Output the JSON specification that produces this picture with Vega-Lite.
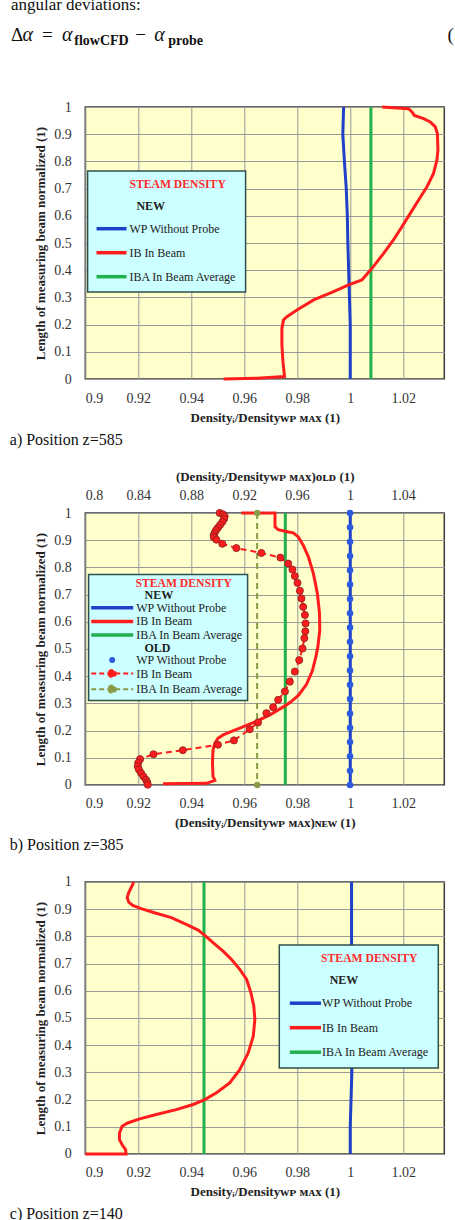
{
  "$schema": "https://vega.github.io/schema/vega-lite/v6.json",
  "background": "white",
  "padding": {"left": 8.3, "top": -5, "right": 0, "bottom": 0},
  "spacing": 20,
  "config": {
    "font": "Liberation Serif",
    "view": {"stroke": null},
    "axis": {"labelFont": "Liberation Serif", "labelFontSize": 14, "labelColor": "#333333", "titleFont": "Liberation Serif", "titleFontSize": 13, "titleFontWeight": "bold", "titleColor": "#222222", "domain": false, "ticks": false, "tickSize": 0, "gridColor": "#999999", "gridWidth": 1, "gridOpacity": 1},
    "axisY": {"labelPadding": 14, "titlePadding": 6},
    "axisBottom": {"labelPadding": 12, "titlePadding": 6},
    "axisTop": {"labelPadding": 10.5, "titlePadding": 5}
  },
  "resolve": {"scale": {"x": "independent", "y": "independent", "color": "independent"}, "legend": {"color": "independent"}},
  "vconcat": [
    {
      "width": 359, "height": 83,
      "data": {"values": [
        {"t": "angular deviations:", "k": "body", "x": -0.2072, "y": 0.836},
        {"t": "Δ", "k": "op", "x": -0.2072, "y": 0.454},
        {"t": "α", "k": "main", "x": -0.1747, "y": 0.454},
        {"t": "=", "k": "op", "x": -0.1209, "y": 0.454},
        {"t": "α", "k": "main", "x": -0.0652, "y": 0.454},
        {"t": "flowCFD", "k": "sub", "x": -0.0306, "y": 0.406},
        {"t": "−", "k": "op", "x": 0.1393, "y": 0.454},
        {"t": "α", "k": "main", "x": 0.1922, "y": 0.454},
        {"t": "probe", "k": "sub", "x": 0.2312, "y": 0.406},
        {"t": "(3)", "k": "op", "x": 1.0092, "y": 0.454}
      ]},
      "encoding": {
        "x": {"field": "x", "type": "quantitative", "scale": {"domain": [0, 1], "nice": false, "zero": false}, "axis": null},
        "y": {"field": "y", "type": "quantitative", "scale": {"domain": [0, 1], "nice": false, "zero": false}, "axis": null},
        "text": {"field": "t", "type": "nominal"}
      },
      "layer": [
        {"transform": [{"filter": "datum.k === 'body'"}], "mark": {"type": "text", "align": "left", "baseline": "alphabetic", "font": "Liberation Serif", "fontSize": 17, "color": "#111111"}},
        {"transform": [{"filter": "datum.k === 'main'"}], "mark": {"type": "text", "align": "left", "baseline": "alphabetic", "font": "Liberation Serif", "fontSize": 20, "fontStyle": "italic", "color": "#111111"}},
        {"transform": [{"filter": "datum.k === 'op'"}], "mark": {"type": "text", "align": "left", "baseline": "alphabetic", "font": "Liberation Serif", "fontSize": 19, "color": "#111111"}},
        {"transform": [{"filter": "datum.k === 'sub'"}], "mark": {"type": "text", "align": "left", "baseline": "alphabetic", "font": "Liberation Serif", "fontSize": 14, "fontWeight": "bold", "color": "#111111"}}
      ]
    },
    {
      "width": 359, "height": 272,
      "view": {"fill": "#ffffcc", "stroke": "#3a3a3a", "strokeWidth": 1.5},
      "title": {"text": "a) Position z=585", "orient": "bottom", "anchor": "start", "frame": "bounds", "offset": 8, "dx": -25, "font": "Liberation Serif", "fontSize": 16, "fontWeight": "normal", "color": "#111111"},
      "data": {"values": [
        {"s": "nWP", "x": 0.9975, "y": 1}, {"s": "nWP", "x": 0.9972, "y": 0.9}, {"s": "nWP", "x": 0.9978, "y": 0.8}, {"s": "nWP", "x": 0.9985, "y": 0.7}, {"s": "nWP", "x": 0.9989, "y": 0.6}, {"s": "nWP", "x": 0.9991, "y": 0.5}, {"s": "nWP", "x": 0.9994, "y": 0.4}, {"s": "nWP", "x": 0.9997, "y": 0.3}, {"s": "nWP", "x": 1.0, "y": 0.2}, {"s": "nWP", "x": 1.0, "y": 0.1}, {"s": "nWP", "x": 1.0, "y": 0},
        {"s": "nIBA", "x": 1.0078, "y": 1}, {"s": "nIBA", "x": 1.0078, "y": 0},
        {"s": "nIB", "x": 1.012, "y": 1.0}, {"s": "nIB", "x": 1.022, "y": 0.994}, {"s": "nIB", "x": 1.0233, "y": 0.982}, {"s": "nIB", "x": 1.0242, "y": 0.969}, {"s": "nIB", "x": 1.0277, "y": 0.957}, {"s": "nIB", "x": 1.0302, "y": 0.945}, {"s": "nIB", "x": 1.0321, "y": 0.927}, {"s": "nIB", "x": 1.0329, "y": 0.902}, {"s": "nIB", "x": 1.0331, "y": 0.841}, {"s": "nIB", "x": 1.0327, "y": 0.804}, {"s": "nIB", "x": 1.0314, "y": 0.755}, {"s": "nIB", "x": 1.0289, "y": 0.706}, {"s": "nIB", "x": 1.0258, "y": 0.658}, {"s": "nIB", "x": 1.0226, "y": 0.608}, {"s": "nIB", "x": 1.0195, "y": 0.56}, {"s": "nIB", "x": 1.0163, "y": 0.511}, {"s": "nIB", "x": 1.0126, "y": 0.462}, {"s": "nIB", "x": 1.0082, "y": 0.407}, {"s": "nIB", "x": 1.0044, "y": 0.364}, {"s": "nIB", "x": 0.9994, "y": 0.346}, {"s": "nIB", "x": 0.9937, "y": 0.321}, {"s": "nIB", "x": 0.9862, "y": 0.291}, {"s": "nIB", "x": 0.9799, "y": 0.254}, {"s": "nIB", "x": 0.9761, "y": 0.229}, {"s": "nIB", "x": 0.9748, "y": 0.217}, {"s": "nIB", "x": 0.9742, "y": 0.186}, {"s": "nIB", "x": 0.9742, "y": 0.126}, {"s": "nIB", "x": 0.9746, "y": 0.064}, {"s": "nIB", "x": 0.9752, "y": 0.009}, {"s": "nIB", "x": 0.9648, "y": 0.003}, {"s": "nIB", "x": 0.9522, "y": 0.0}
      ]},
      "transform": [{"window": [{"op": "row_number", "as": "rn"}]}],
      "encoding": {
        "x": {"field": "x", "type": "quantitative", "scale": {"domain": [0.9, 1.0355], "nice": false, "zero": false}, "axis": {"values": [0.9, 0.92, 0.94, 0.96, 0.98, 1, 1.02], "format": "~g", "title": "Densityᵢ/Densityᴡᴘ ᴍᴀx (1)", "grid": true}},
        "y": {"field": "y", "type": "quantitative", "scale": {"domain": [0, 1], "nice": false, "zero": false}, "axis": {"values": [0, 0.1, 0.2, 0.3, 0.4, 0.5, 0.6, 0.7, 0.8, 0.9, 1], "format": "~g", "title": "Length of measuring beam normalized (1)", "grid": true}},
        "color": {"field": "s", "type": "nominal", "scale": {"domain": ["NEW", "nWP", "nIB", "nIBA"], "range": ["#000000", "#1f40c8", "#ff1c1c", "#20b14c"]},
          "legend": {"orient": "none", "legendX": 2.3, "legendY": 64, "title": "STEAM DENSITY", "titleColor": "#ff2a2a", "titleFont": "Liberation Serif", "titleFontSize": 11.7, "titleFontWeight": "bold", "titleAnchor": "middle", "titlePadding": 9,
            "fillColor": "#ccffff", "strokeColor": "#2f4f4f", "padding": 8,
            "labelFont": "Liberation Serif", "labelFontSize": 12, "labelColor": "#222222", "labelLimit": 300,
            "labelExpr": "datum.value === 'NEW' ? 'NEW' : datum.value === 'nWP' ? 'WP Without Probe' : datum.value === 'nIB' ? 'IB In Beam' : 'IBA In Beam Average'",
            "symbolType": "M-5,0H5", "symbolSize": 36, "symbolStrokeWidth": 3.5, "symbolOffset": 9.9, "labelOffset": 11.9, "rowPadding": 10,
            "encode": {
              "legend": {"update": {"strokeWidth": {"value": 1.5}}},
              "title": {"update": {"dx": {"value": 11}}},
              "symbols": {"update": {"opacity": {"signal": "datum.value === 'NEW' ? 0 : 1"}}},
              "labels": {"update": {"fontWeight": {"signal": "datum.value === 'NEW' ? 'bold' : 'normal'"}, "dx": {"signal": "datum.value === 'NEW' ? 7 : 0"}}}
            }}},
        "order": {"field": "rn", "type": "quantitative"}
      },
      "layer": [
        {"mark": {"type": "line", "strokeWidth": 3}}
      ]
    },
    {
      "width": 359, "height": 272,
      "view": {"fill": "#ffffcc", "stroke": "#3a3a3a", "strokeWidth": 1.5},
      "title": {"text": "b) Position z=385", "orient": "bottom", "anchor": "start", "frame": "bounds", "offset": 7, "dx": -25, "font": "Liberation Serif", "fontSize": 16, "fontWeight": "normal", "color": "#111111"},
      "data": {"values": [
        {"s": "nWP", "x": 1.0, "y": 1}, {"s": "nWP", "x": 1.0, "y": 0},
        {"s": "nIBA", "x": 0.9755, "y": 1}, {"s": "nIBA", "x": 0.9755, "y": 0},
        {"s": "nIB", "x": 0.9589, "y": 1.0}, {"s": "nIB", "x": 0.9716, "y": 1.0}, {"s": "nIB", "x": 0.9716, "y": 0.949}, {"s": "nIB", "x": 0.9728, "y": 0.939}, {"s": "nIB", "x": 0.9767, "y": 0.93}, {"s": "nIB", "x": 0.9785, "y": 0.927}, {"s": "nIB", "x": 0.9804, "y": 0.912}, {"s": "nIB", "x": 0.9823, "y": 0.881}, {"s": "nIB", "x": 0.9842, "y": 0.839}, {"s": "nIB", "x": 0.9861, "y": 0.777}, {"s": "nIB", "x": 0.9876, "y": 0.704}, {"s": "nIB", "x": 0.9884, "y": 0.631}, {"s": "nIB", "x": 0.9885, "y": 0.57}, {"s": "nIB", "x": 0.9878, "y": 0.509}, {"s": "nIB", "x": 0.987, "y": 0.47}, {"s": "nIB", "x": 0.9857, "y": 0.42}, {"s": "nIB", "x": 0.9835, "y": 0.37}, {"s": "nIB", "x": 0.9805, "y": 0.33}, {"s": "nIB", "x": 0.9775, "y": 0.305}, {"s": "nIB", "x": 0.9752, "y": 0.29}, {"s": "nIB", "x": 0.9697, "y": 0.258}, {"s": "nIB", "x": 0.9646, "y": 0.234}, {"s": "nIB", "x": 0.9583, "y": 0.209}, {"s": "nIB", "x": 0.952, "y": 0.184}, {"s": "nIB", "x": 0.9501, "y": 0.172}, {"s": "nIB", "x": 0.9489, "y": 0.154}, {"s": "nIB", "x": 0.9482, "y": 0.129}, {"s": "nIB", "x": 0.948, "y": 0.081}, {"s": "nIB", "x": 0.9482, "y": 0.032}, {"s": "nIB", "x": 0.9489, "y": 0.017}, {"s": "nIB", "x": 0.9457, "y": 0.006}, {"s": "nIB", "x": 0.9293, "y": 0.005},
        {"s": "oIBA", "x": 0.9298, "y": 1}, {"s": "oIBA", "x": 0.9298, "y": 0},
        {"s": "oWP", "x": 1.0, "y": 0}, {"s": "oWP", "x": 1.0, "y": 0.0526}, {"s": "oWP", "x": 1.0, "y": 0.1053}, {"s": "oWP", "x": 1.0, "y": 0.1579}, {"s": "oWP", "x": 1.0, "y": 0.2105}, {"s": "oWP", "x": 1.0, "y": 0.2632}, {"s": "oWP", "x": 1.0, "y": 0.3158}, {"s": "oWP", "x": 1.0, "y": 0.3684}, {"s": "oWP", "x": 1.0, "y": 0.4211}, {"s": "oWP", "x": 1.0, "y": 0.4737}, {"s": "oWP", "x": 1.0, "y": 0.5263}, {"s": "oWP", "x": 1.0, "y": 0.5789}, {"s": "oWP", "x": 1.0, "y": 0.6316}, {"s": "oWP", "x": 1.0, "y": 0.6842}, {"s": "oWP", "x": 1.0, "y": 0.7368}, {"s": "oWP", "x": 1.0, "y": 0.7895}, {"s": "oWP", "x": 1.0, "y": 0.8421}, {"s": "oWP", "x": 1.0, "y": 0.8947}, {"s": "oWP", "x": 1.0, "y": 0.9474}, {"s": "oWP", "x": 1.0, "y": 1},
        {"s": "oIB", "x": 0.9015, "y": 1.0}, {"s": "oIB", "x": 0.904, "y": 0.995}, {"s": "oIB", "x": 0.9053, "y": 0.988}, {"s": "oIB", "x": 0.9048, "y": 0.978}, {"s": "oIB", "x": 0.9035, "y": 0.967}, {"s": "oIB", "x": 0.9018, "y": 0.956}, {"s": "oIB", "x": 0.9002, "y": 0.946}, {"s": "oIB", "x": 0.8988, "y": 0.937}, {"s": "oIB", "x": 0.8977, "y": 0.927}, {"s": "oIB", "x": 0.897, "y": 0.918}, {"s": "oIB", "x": 0.8972, "y": 0.91}, {"s": "oIB", "x": 0.899, "y": 0.902}, {"s": "oIB", "x": 0.9035, "y": 0.887}, {"s": "oIB", "x": 0.9141, "y": 0.871}, {"s": "oIB", "x": 0.933, "y": 0.853}, {"s": "oIB", "x": 0.9474, "y": 0.836}, {"s": "oIB", "x": 0.9533, "y": 0.814}, {"s": "oIB", "x": 0.9565, "y": 0.792}, {"s": "oIB", "x": 0.9583, "y": 0.768}, {"s": "oIB", "x": 0.9603, "y": 0.743}, {"s": "oIB", "x": 0.9621, "y": 0.714}, {"s": "oIB", "x": 0.9633, "y": 0.686}, {"s": "oIB", "x": 0.9646, "y": 0.655}, {"s": "oIB", "x": 0.9659, "y": 0.625}, {"s": "oIB", "x": 0.9664, "y": 0.594}, {"s": "oIB", "x": 0.9662, "y": 0.565}, {"s": "oIB", "x": 0.9655, "y": 0.54}, {"s": "oIB", "x": 0.9641, "y": 0.502}, {"s": "oIB", "x": 0.9616, "y": 0.459}, {"s": "oIB", "x": 0.9583, "y": 0.417}, {"s": "oIB", "x": 0.9545, "y": 0.38}, {"s": "oIB", "x": 0.9508, "y": 0.344}, {"s": "oIB", "x": 0.9457, "y": 0.313}, {"s": "oIB", "x": 0.9419, "y": 0.286}, {"s": "oIB", "x": 0.9368, "y": 0.264}, {"s": "oIB", "x": 0.9305, "y": 0.23}, {"s": "oIB", "x": 0.9242, "y": 0.205}, {"s": "oIB", "x": 0.9123, "y": 0.164}, {"s": "oIB", "x": 0.9002, "y": 0.148}, {"s": "oIB", "x": 0.8737, "y": 0.128}, {"s": "oIB", "x": 0.8515, "y": 0.113}, {"s": "oIB", "x": 0.8414, "y": 0.095}, {"s": "oIB", "x": 0.84, "y": 0.082}, {"s": "oIB", "x": 0.8396, "y": 0.069}, {"s": "oIB", "x": 0.8405, "y": 0.057}, {"s": "oIB", "x": 0.8421, "y": 0.044}, {"s": "oIB", "x": 0.844, "y": 0.031}, {"s": "oIB", "x": 0.8459, "y": 0.019}, {"s": "oIB", "x": 0.8468, "y": 0.01}, {"s": "oIB", "x": 0.8472, "y": 0.001}
      ]},
      "transform": [{"window": [{"op": "row_number", "as": "rn"}]}],
      "encoding": {
        "y": {"field": "y", "type": "quantitative", "scale": {"domain": [0, 1], "nice": false, "zero": false}, "axis": {"values": [0, 0.1, 0.2, 0.3, 0.4, 0.5, 0.6, 0.7, 0.8, 0.9, 1], "format": "~g", "title": "Length of measuring beam normalized (1)", "grid": true}},
        "color": {"field": "s", "type": "nominal", "scale": {"domain": ["NEW", "nWP", "nIB", "nIBA", "OLD", "oWP", "oIB", "oIBA"], "range": ["#000000", "#1f40c8", "#ff1c1c", "#20b14c", "#000000", "#2b59e0", "#ff1c1c", "#8a9b45"]},
          "legend": {"orient": "none", "legendX": 3.3, "legendY": 61.5, "title": "STEAM DENSITY", "titleColor": "#ff2a2a", "titleFont": "Liberation Serif", "titleFontSize": 11.7, "titleFontWeight": "bold", "titleAnchor": "middle", "titlePadding": 0,
            "fillColor": "#ccffff", "strokeColor": "#2f4f4f", "padding": 3,
            "labelFont": "Liberation Serif", "labelFontSize": 12, "labelColor": "#222222", "labelLimit": 300,
            "labelExpr": "(datum.value === 'NEW' || datum.value === 'OLD') ? datum.value : (datum.value === 'nWP' || datum.value === 'oWP') ? 'WP Without Probe' : (datum.value === 'nIB' || datum.value === 'oIB') ? 'IB In Beam' : 'IBA In Beam Average'",
            "symbolType": "M-7,0H7", "symbolSize": 36, "symbolStrokeWidth": 3.5, "symbolOffset": 14.6, "labelOffset": 18, "rowPadding": -0.4,
            "encode": {
              "legend": {"update": {"strokeWidth": {"value": 1.5}}},
              "title": {"update": {"dx": {"value": 16}}},
              "symbols": {"update": {
                "opacity": {"signal": "(datum.value === 'NEW' || datum.value === 'OLD') ? 0 : 1"},
                "shape": {"signal": "datum.value === 'oWP' ? 'circle' : (datum.value === 'oIB' || datum.value === 'oIBA') ? 'M-7,0H7M-1.2,0A1.2,1.2 0 1,0 1.2,0A1.2,1.2 0 1,0 -1.2,0' : 'M-7,0H7'"},
                "strokeDash": {"signal": "(datum.value === 'oIB' || datum.value === 'oIBA') ? [5, 3] : []"},
                "fill": {"signal": "datum.value === 'oWP' ? '#2b59e0' : datum.value === 'oIB' ? '#ff1c1c' : datum.value === 'oIBA' ? '#8a9b45' : 'transparent'"},
                "stroke": {"signal": "datum.value === 'nWP' ? '#1f40c8' : (datum.value === 'nIB' || datum.value === 'oIB') ? '#ff1c1c' : datum.value === 'nIBA' ? '#20b14c' : datum.value === 'oIBA' ? '#8a9b45' : 'transparent'"},
                "strokeWidth": {"signal": "datum.value === 'oWP' ? 0 : (datum.value === 'oIB' || datum.value === 'oIBA') ? 2 : 3.5"}
              }},
              "labels": {"update": {"fontWeight": {"signal": "(datum.value === 'NEW' || datum.value === 'OLD') ? 'bold' : 'normal'"}, "dx": {"signal": "(datum.value === 'NEW' || datum.value === 'OLD') ? 8.3 : 0"}}}
            }}},
        "order": {"field": "rn", "type": "quantitative"}
      },
      "layer": [
        {
          "transform": [{"filter": {"field": "s", "oneOf": ["nWP", "nIB", "nIBA"]}}],
          "encoding": {"x": {"field": "x", "type": "quantitative", "scale": {"domain": [0.9, 1.0355], "nice": false, "zero": false}, "axis": {"orient": "bottom", "values": [0.9, 0.92, 0.94, 0.96, 0.98, 1, 1.02], "format": "~g", "title": "(Densityᵢ/Densityᴡᴘ ᴍᴀx)ɴᴇᴡ (1)", "grid": true}}},
          "layer": [{"mark": {"type": "line", "strokeWidth": 3}}]
        },
        {
          "transform": [{"filter": {"field": "s", "oneOf": ["oWP", "oIB", "oIBA"]}}],
          "encoding": {"x": {"field": "x", "type": "quantitative", "scale": {"domain": [0.8, 1.0712], "nice": false, "zero": false}, "axis": {"orient": "top", "values": [0.8, 0.84, 0.88, 0.92, 0.96, 1, 1.04], "format": "~g", "title": "(Densityᵢ/Densityᴡᴘ ᴍᴀx)ᴏʟᴅ (1)", "grid": false}}},
          "layer": [
            {"transform": [{"filter": {"field": "s", "oneOf": ["oIB", "oIBA"]}}], "mark": {"type": "line", "strokeWidth": 2, "strokeDash": [6, 4]}},
            {"transform": [{"filter": "datum.s === 'oIB'"}], "mark": {"type": "point", "filled": true, "size": 50, "opacity": 1, "stroke": "#8e2323", "strokeWidth": 0.9}},
            {"transform": [{"filter": {"field": "s", "oneOf": ["oWP", "oIBA"]}}], "mark": {"type": "point", "filled": true, "size": 42, "opacity": 1}}
          ]
        }
      ],
      "resolve": {"scale": {"x": "independent"}, "axis": {"x": "independent"}}
    },
    {
      "width": 359, "height": 272,
      "view": {"fill": "#ffffcc", "stroke": "#3a3a3a", "strokeWidth": 1.5},
      "title": {"text": "c) Position z=140", "orient": "bottom", "anchor": "start", "frame": "bounds", "offset": 7, "dx": -25, "font": "Liberation Serif", "fontSize": 16, "fontWeight": "normal", "color": "#111111"},
      "data": {"values": [
        {"s": "nWP", "x": 1.0005, "y": 1}, {"s": "nWP", "x": 1.0005, "y": 0.6}, {"s": "nWP", "x": 1.0006, "y": 0.3}, {"s": "nWP", "x": 1.0003, "y": 0.2}, {"s": "nWP", "x": 1.0, "y": 0.1}, {"s": "nWP", "x": 1.0, "y": 0},
        {"s": "nIBA", "x": 0.9448, "y": 1}, {"s": "nIBA", "x": 0.9448, "y": 0},
        {"s": "nIB", "x": 0.9182, "y": 1.0}, {"s": "nIB", "x": 0.9179, "y": 0.991}, {"s": "nIB", "x": 0.9173, "y": 0.979}, {"s": "nIB", "x": 0.9164, "y": 0.961}, {"s": "nIB", "x": 0.9158, "y": 0.942}, {"s": "nIB", "x": 0.9164, "y": 0.926}, {"s": "nIB", "x": 0.9179, "y": 0.914}, {"s": "nIB", "x": 0.9211, "y": 0.902}, {"s": "nIB", "x": 0.9261, "y": 0.887}, {"s": "nIB", "x": 0.9325, "y": 0.869}, {"s": "nIB", "x": 0.9381, "y": 0.844}, {"s": "nIB", "x": 0.9426, "y": 0.823}, {"s": "nIB", "x": 0.9451, "y": 0.804}, {"s": "nIB", "x": 0.9482, "y": 0.777}, {"s": "nIB", "x": 0.952, "y": 0.746}, {"s": "nIB", "x": 0.9552, "y": 0.715}, {"s": "nIB", "x": 0.9583, "y": 0.679}, {"s": "nIB", "x": 0.9609, "y": 0.642}, {"s": "nIB", "x": 0.9625, "y": 0.593}, {"s": "nIB", "x": 0.9636, "y": 0.544}, {"s": "nIB", "x": 0.964, "y": 0.495}, {"s": "nIB", "x": 0.9634, "y": 0.433}, {"s": "nIB", "x": 0.9615, "y": 0.372}, {"s": "nIB", "x": 0.9583, "y": 0.31}, {"s": "nIB", "x": 0.9545, "y": 0.261}, {"s": "nIB", "x": 0.9495, "y": 0.225}, {"s": "nIB", "x": 0.9451, "y": 0.2}, {"s": "nIB", "x": 0.9407, "y": 0.182}, {"s": "nIB", "x": 0.9343, "y": 0.163}, {"s": "nIB", "x": 0.9268, "y": 0.145}, {"s": "nIB", "x": 0.9205, "y": 0.129}, {"s": "nIB", "x": 0.916, "y": 0.114}, {"s": "nIB", "x": 0.9139, "y": 0.102}, {"s": "nIB", "x": 0.9129, "y": 0.077}, {"s": "nIB", "x": 0.9129, "y": 0.053}, {"s": "nIB", "x": 0.9139, "y": 0.034}, {"s": "nIB", "x": 0.9152, "y": 0.016}, {"s": "nIB", "x": 0.9154, "y": 0.0}, {"s": "nIB", "x": 0.9, "y": 0.0}
      ]},
      "transform": [{"window": [{"op": "row_number", "as": "rn"}]}],
      "encoding": {
        "x": {"field": "x", "type": "quantitative", "scale": {"domain": [0.9, 1.0355], "nice": false, "zero": false}, "axis": {"values": [0.9, 0.92, 0.94, 0.96, 0.98, 1, 1.02], "format": "~g", "title": "Densityᵢ/Densityᴡᴘ ᴍᴀx (1)", "grid": true}},
        "y": {"field": "y", "type": "quantitative", "scale": {"domain": [0, 1], "nice": false, "zero": false}, "axis": {"values": [0, 0.1, 0.2, 0.3, 0.4, 0.5, 0.6, 0.7, 0.8, 0.9, 1], "format": "~g", "title": "Length of measuring beam normalized (1)", "grid": true}},
        "color": {"field": "s", "type": "nominal", "scale": {"domain": ["NEW", "nWP", "nIB", "nIBA"], "range": ["#000000", "#1f40c8", "#ff1c1c", "#20b14c"]},
          "legend": {"orient": "none", "legendX": 194, "legendY": 63, "title": "STEAM DENSITY", "titleColor": "#ff2a2a", "titleFont": "Liberation Serif", "titleFontSize": 11.7, "titleFontWeight": "bold", "titleAnchor": "middle", "titlePadding": 9,
            "fillColor": "#ccffff", "strokeColor": "#2f4f4f", "padding": 8,
            "labelFont": "Liberation Serif", "labelFontSize": 12, "labelColor": "#222222", "labelLimit": 300,
            "labelExpr": "datum.value === 'NEW' ? 'NEW' : datum.value === 'nWP' ? 'WP Without Probe' : datum.value === 'nIB' ? 'IB In Beam' : 'IBA In Beam Average'",
            "symbolType": "M-5.2,0H5.2", "symbolSize": 36, "symbolStrokeWidth": 3.5, "symbolOffset": 12.1, "labelOffset": 10.7, "rowPadding": 10.5,
            "encode": {
              "legend": {"update": {"strokeWidth": {"value": 1.5}}},
              "title": {"update": {"dx": {"value": 11}}},
              "symbols": {"update": {"opacity": {"signal": "datum.value === 'NEW' ? 0 : 1"}}},
              "labels": {"update": {"fontWeight": {"signal": "datum.value === 'NEW' ? 'bold' : 'normal'"}, "dx": {"signal": "datum.value === 'NEW' ? 7.6 : 0"}}}
            }}},
        "order": {"field": "rn", "type": "quantitative"}
      },
      "layer": [
        {"mark": {"type": "line", "strokeWidth": 3}}
      ]
    }
  ]
}
